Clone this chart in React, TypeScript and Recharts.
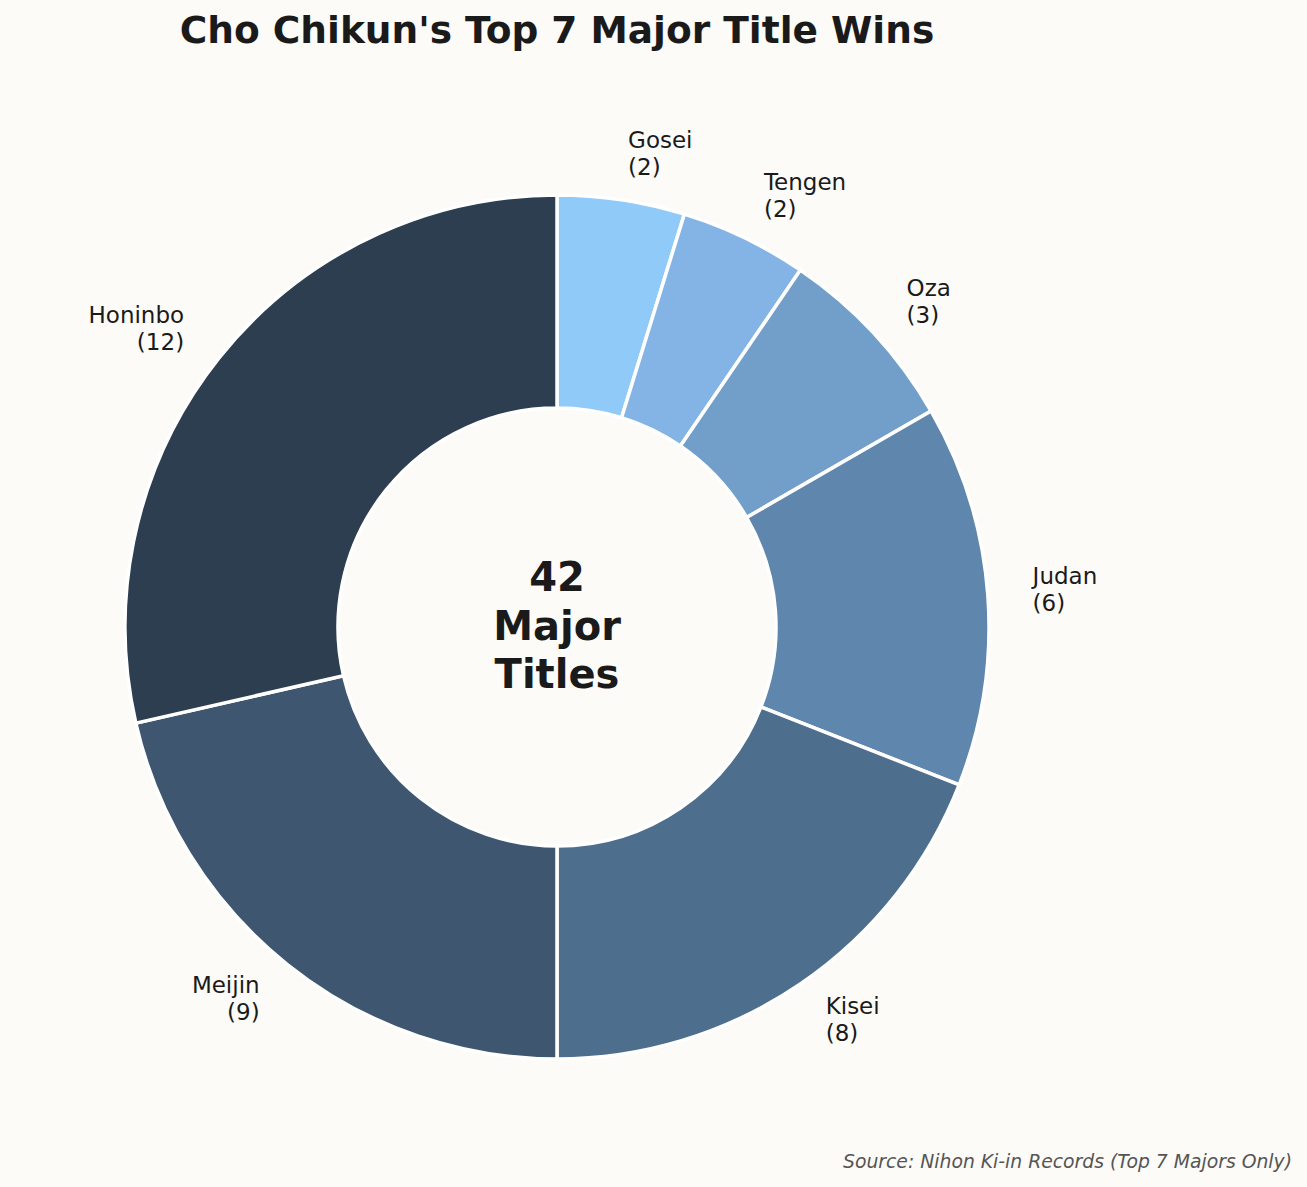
import { PieChart, Pie, Cell } from 'recharts';

const titles = ['Gosei', 'Tengen', 'Oza', 'Judan', 'Kisei', 'Meijin', 'Honinbo'];
const wins = [2, 2, 3, 6, 8, 9, 12];
const colors = ['#90CAF9', '#83B4E5', '#729ECA', '#5F86AD', '#4E6E8D', '#3E566F', '#2D3E50'];

const data = titles.map((name, i) => ({ name, value: wins[i] }));
const total = wins.reduce((a, b) => a + b, 0);

const W = 1307;
const H = 1187;
const CX = 557;
const CY = 627;
const R = 432;
const font = '"DejaVu Sans", sans-serif';

const RADIAN = Math.PI / 180;

function sliceLabel(props: any) {
    const { cx, cy, midAngle, outerRadius, name, value } = props;
    const r = outerRadius * 1.104;
    const x = cx + r * Math.cos(-midAngle * RADIAN);
    const y = cy + r * Math.sin(-midAngle * RADIAN);
    const anchor = x > cx ? 'start' : 'end';
    return (
        <text x={x} y={y - 7} textAnchor={anchor} fill="#1a1a1a" fontSize={23} fontFamily={font}>
            <tspan x={x}>{name}</tspan>
            <tspan x={x} dy={27}>({value})</tspan>
        </text>
    );
}

export default function App() {
    return (
        <div style={{ position: 'relative', width: W, height: H, background: '#FCFBF8', fontFamily: font }}>
            <style>{'body{margin:0;background:#FCFBF8}'}</style>
            <PieChart
                width={W}
                height={H}
                margin={{ top: 0, right: 0, bottom: 0, left: 0 }}
                style={{ position: 'absolute', left: 0, top: 0 }}
            >
                <Pie
                    data={data}
                    dataKey="value"
                    nameKey="name"
                    cx={CX}
                    cy={CY}
                    innerRadius={219}
                    outerRadius={R}
                    startAngle={90}
                    endAngle={-270}
                    stroke="#ffffff"
                    strokeWidth={3.5}
                    label={sliceLabel}
                    labelLine={false}
                    isAnimationActive={false}
                >
                    {data.map((d, i) => (
                        <Cell key={d.name} fill={colors[i]} />
                    ))}
                </Pie>
            </PieChart>
            <svg width={W} height={H} style={{ position: 'absolute', left: 0, top: 0, pointerEvents: 'none' }}>
                <text x={CX} y={43} textAnchor="middle" fill="#1a1a1a" fontSize={37.5} fontWeight="bold" fontFamily={font}>
                    Cho Chikun's Top 7 Major Title Wins
                </text>
                <text x={CX} textAnchor="middle" fill="#1a1a1a" fontSize={40} fontWeight="bold" fontFamily={font}>
                    <tspan x={CX} y={591}>{total}</tspan>
                    <tspan x={CX} y={640}>Major</tspan>
                    <tspan x={CX} y={688}>Titles</tspan>
                </text>
                <text x={1292} y={1168} textAnchor="end" fill="#555555" fontSize={18.8} fontStyle="italic" fontFamily={font}>
                    Source: Nihon Ki-in Records (Top 7 Majors Only)
                </text>
            </svg>
        </div>
    );
}
